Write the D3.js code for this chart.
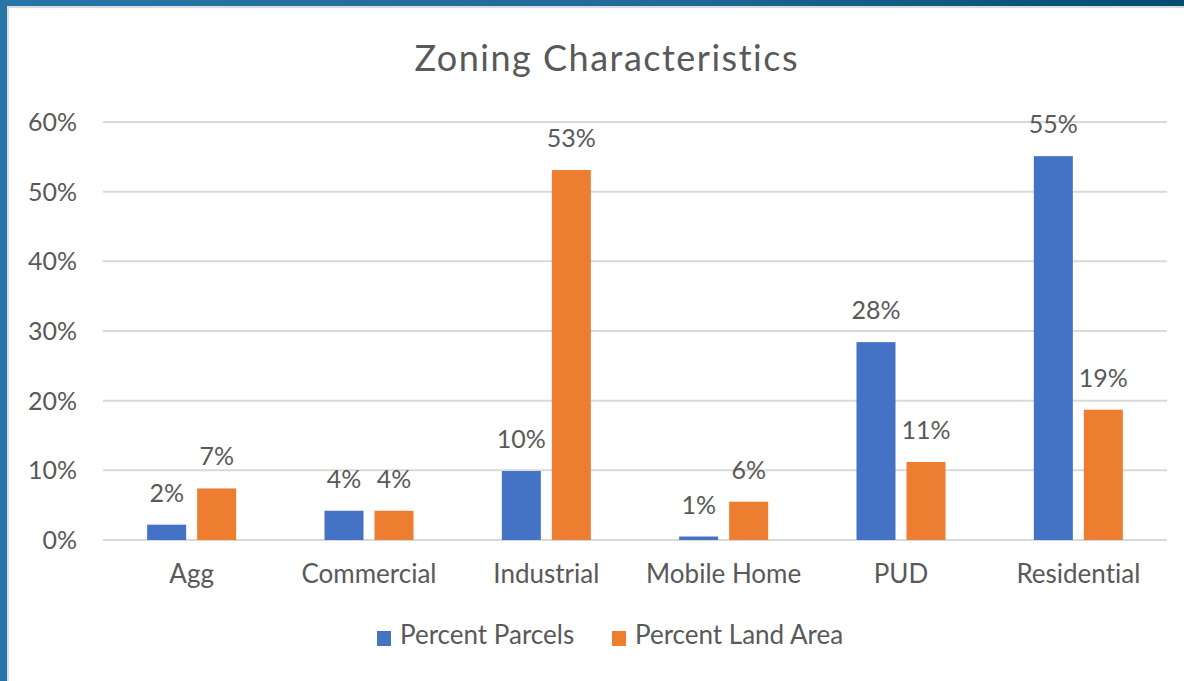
<!DOCTYPE html>
<html>
<head>
<meta charset="utf-8">
<script src="https://cdn.jsdelivr.net/npm/d3@7"></script>
<style>
  html, body { margin: 0; padding: 0; background: #fff; }
  svg { display: block; }
  text { font-family: Lato, "Open Sans", sans-serif; fill: #595959; font-variant-ligatures: none; font-feature-settings: "liga" 0, "clig" 0; }
</style>
</head>
<body>
<svg id="chart" width="1184" height="681"></svg>
<script>
const categories = ["Agg", "Commercial", "Industrial", "Mobile Home", "PUD", "Residential"];
const seriesNames = ["Percent Parcels", "Percent Land Area"];
const percentParcels = [2.2, 4.2, 9.9, 0.5, 28.4, 55.1];
const percentLandArea = [7.4, 4.2, 53.1, 5.5, 11.2, 18.7];
const seriesColors = ["#4472C4", "#ED7D31"];
const yTicks = [0, 10, 20, 30, 40, 50, 60];
const titleText = "Zoning Characteristics";

const svg = d3.select("#chart");
const W = 1184, H = 681;

// slide background
const defs = svg.append("defs");
const grad = defs.append("linearGradient").attr("id", "bg").attr("x1", "0").attr("x2", "1").attr("y1", "0").attr("y2", "0");
grad.append("stop").attr("offset", "0").attr("stop-color", "#2775A8");
grad.append("stop").attr("offset", "0.55").attr("stop-color", "#1F6A99");
grad.append("stop").attr("offset", "1").attr("stop-color", "#004D70");
svg.append("rect").attr("width", W).attr("height", H).attr("fill", "url(#bg)");
svg.append("rect").attr("x", 7).attr("y", 6).attr("width", W - 7).attr("height", H - 6).attr("fill", "#DCDCDC");
svg.append("rect").attr("x", 9).attr("y", 8).attr("width", W - 9).attr("height", H - 8).attr("fill", "#FFFFFF");

const plot = { left: 103, right: 1167, top: 122, bottom: 540 };

const x0 = d3.scaleBand().domain(categories).range([plot.left, plot.right]).padding(0);
const x1 = d3.scaleBand().domain(seriesNames).range([0, x0.bandwidth()]).paddingInner(0.22).paddingOuter(0.883);
const y = d3.scaleLinear().domain([0, 60]).range([plot.bottom, plot.top]);

// gridlines
svg.append("g").selectAll("line").data(yTicks).join("line")
  .attr("x1", plot.left).attr("x2", plot.right)
  .attr("y1", d => y(d)).attr("y2", d => y(d))
  .attr("stroke", "#D9D9D9").attr("stroke-width", 2);

// y tick labels
svg.append("g").selectAll("text").data(yTicks).join("text")
  .attr("x", 77).attr("y", d => y(d) + 9)
  .attr("text-anchor", "end")
  .attr("font-size", 25)
  .text(d => d + "%");

// bars
const rows = categories.map((c, i) => ({ cat: c, vals: [percentParcels[i], percentLandArea[i]] }));
const groups = svg.append("g").selectAll("g").data(rows).join("g")
  .attr("transform", d => `translate(${x0(d.cat)},0)`);

groups.selectAll("rect").data(d => d.vals.map((v, k) => ({ v, k }))).join("rect")
  .attr("x", d => x1(seriesNames[d.k]))
  .attr("width", x1.bandwidth())
  .attr("y", d => y(d.v))
  .attr("height", d => y(0) - y(d.v))
  .attr("fill", d => seriesColors[d.k]);

groups.selectAll("text").data(d => d.vals.map((v, k) => ({ v, k }))).join("text")
  .attr("x", d => x1(seriesNames[d.k]) + x1.bandwidth() / 2)
  .attr("y", d => y(d.v) - 23)
  .attr("text-anchor", "middle")
  .attr("font-size", 25)
  .text(d => Math.round(d.v) === 0 ? "1%" : Math.round(d.v) + "%");

// category labels
svg.append("g").selectAll("text").data(categories).join("text")
  .attr("x", d => x0(d) + x0.bandwidth() / 2)
  .attr("y", 583)
  .attr("text-anchor", "middle")
  .attr("font-size", 26)
  .text(d => d);

// title
svg.append("text")
  .attr("x", 606).attr("y", 71)
  .attr("text-anchor", "middle")
  .attr("font-size", 36)
  .attr("textLength", 383)
  .attr("lengthAdjust", "spacing")
  .text(titleText);

// legend
const legendX = [377, 612];
const leg = svg.append("g").selectAll("g").data(seriesNames).join("g")
  .attr("transform", (d, i) => `translate(${legendX[i]},0)`);
leg.append("rect").attr("x", 0).attr("y", 631).attr("width", 14).attr("height", 15)
  .attr("fill", (d, i) => seriesColors[i]);
leg.append("text").attr("x", 23).attr("y", 644).attr("font-size", 26).text(d => d);
</script>
</body>
</html>
